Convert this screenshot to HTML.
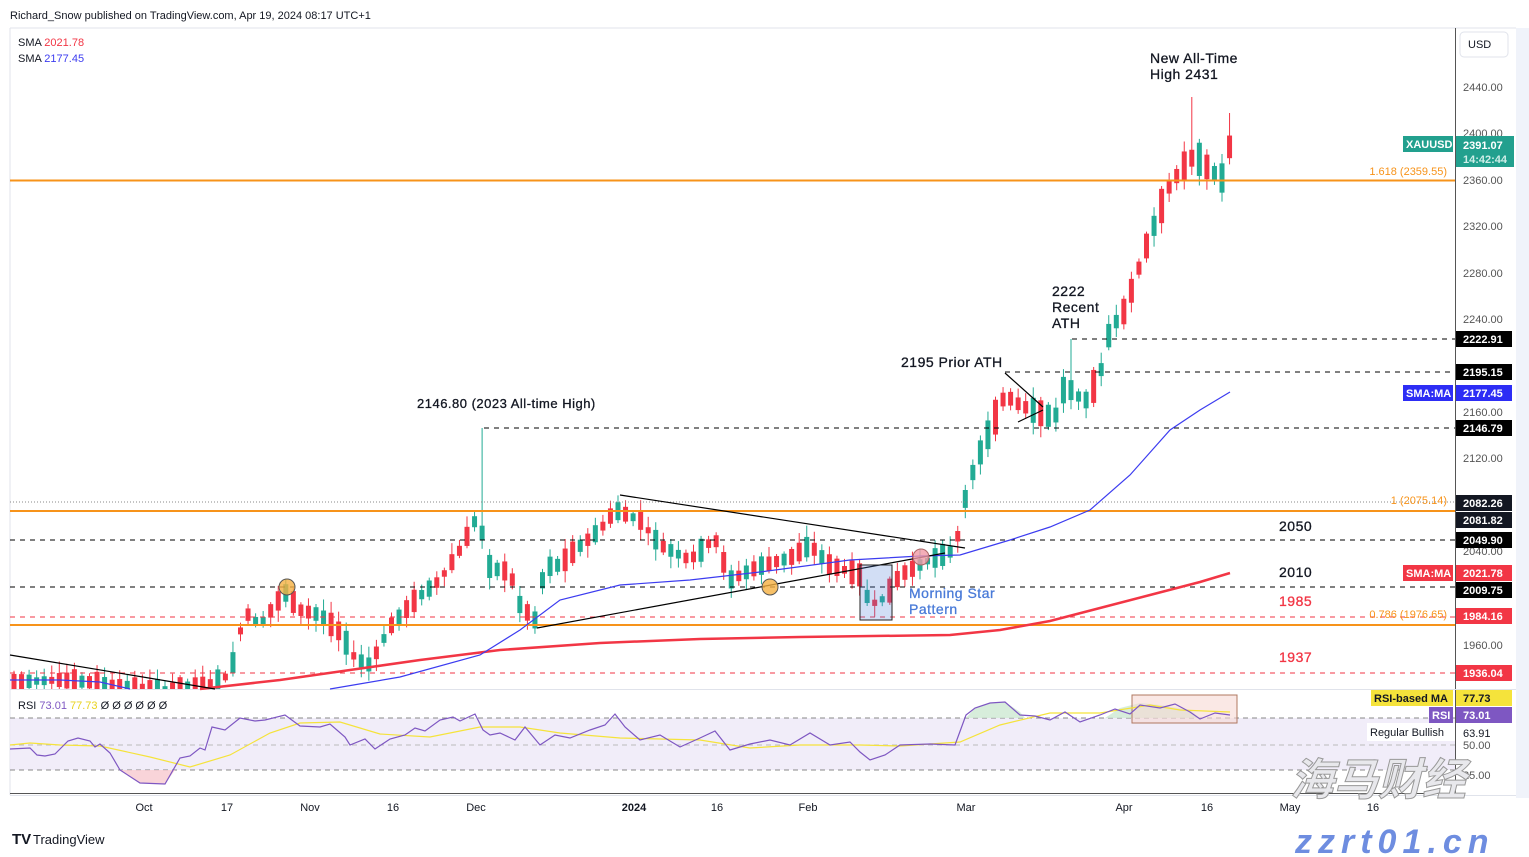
<!DOCTYPE html>
<html><head><meta charset="utf-8"><style>
body{margin:0;background:#fff;width:1529px;height:857px;overflow:hidden;font-family:"Liberation Sans",sans-serif}
svg{position:absolute;left:0;top:0}
</style></head><body>
<svg id="s" width="1529" height="857" xmlns="http://www.w3.org/2000/svg" font-family="Liberation Sans, Noto Sans CJK SC, sans-serif">
<rect x="0" y="0" width="1529" height="857" fill="#fff"/>
<rect x="1516" y="28" width="13" height="770" fill="#f0f3fa"/>
<line x1="10" y1="28" x2="10" y2="795" stroke="#e0e3eb"/>
<line x1="10" y1="28" x2="1516" y2="28" stroke="#e0e3eb"/>
<line x1="1455.5" y1="28" x2="1455.5" y2="795" stroke="#555"/>
<line x1="10" y1="689.5" x2="1516" y2="689.5" stroke="#e0e3eb"/>
<line x1="10" y1="793.5" x2="1455" y2="793.5" stroke="#555"/>
<line x1="10" y1="795.5" x2="1516" y2="795.5" stroke="#e0e3eb"/>
<rect x="10" y="718" width="1445" height="52" fill="#ede9f7" opacity="0.8"/>
<g stroke="#888" stroke-dasharray="5,4"><line x1="10" y1="718" x2="1455" y2="718"/><line x1="10" y1="745" x2="1455" y2="745" stroke="#bbb"/><line x1="10" y1="770" x2="1455" y2="770"/></g>
<polygon points="120,770 140,783 165,784 175,770" fill="#f7c9cf" opacity="0.8"/>
<polygon points="966,718 975,708 990,703 1005,702 1020,712 1025,718" fill="#cde8d2" opacity="0.8"/>
<polygon points="1105,718 1120,708 1140,703 1160,705 1190,710 1200,718" fill="#cde8d2" opacity="0.8"/>
<rect x="1132" y="695" width="105" height="28" fill="#f6d8d3" fill-opacity="0.6" stroke="#b07860"/>
<polyline fill="none" stroke="#f5e33b" stroke-width="1.2" points="10,745 30,743 60,745 100,746 150,757 190,767 230,755 270,733 300,723 340,722 380,734 430,737 480,727 520,727 560,733 620,738 700,740 750,748 800,745 860,745 900,746 960,742 1000,725 1050,713 1100,713 1150,705 1180,710 1230,712"/>
<polyline fill="none" stroke="#7e57c2" stroke-width="1.2" points="10,749 30,748 37,755 45,756 55,754 68,741 78,738 90,741 95,747 100,744 110,753 120,770 140,783 165,784 180,758 190,756 200,748 205,750 212,727 225,730 240,718 255,721 265,720 285,715 300,726 320,727 330,724 345,737 350,745 365,739 375,749 390,739 405,735 415,728 425,731 440,720 453,717 460,721 475,714 483,730 490,735 500,733 515,740 525,727 540,745 555,735 570,738 590,730 605,725 615,714 625,727 640,740 660,735 680,747 700,738 715,731 730,750 750,744 770,740 790,745 810,733 830,745 850,742 860,752 870,760 885,755 900,745 930,744 955,745 966,715 975,708 990,703 1005,702 1020,715 1035,716 1050,720 1065,712 1080,722 1100,715 1115,709 1130,714 1140,705 1160,708 1175,704 1190,712 1200,719 1215,713 1230,715"/>
<g id="main"></g>
<line x1="10" y1="180.5" x2="1455" y2="180.5" stroke="#f7931a" stroke-width="2"/>
<line x1="10" y1="502" x2="1455" y2="502" stroke="#888" stroke-dasharray="1,2"/>
<line x1="10" y1="511" x2="1455" y2="511" stroke="#f7931a" stroke-width="2"/>
<line x1="10" y1="625" x2="1455" y2="625" stroke="#f7931a" stroke-width="2"/>
<g stroke="#000" stroke-dasharray="5,5"><line x1="10" y1="540" x2="1455" y2="540"/><line x1="10" y1="587" x2="1455" y2="587"/><line x1="484" y1="428" x2="1455" y2="428"/><line x1="1005" y1="372" x2="1455" y2="372"/><line x1="1072" y1="339" x2="1455" y2="339"/></g>
<g stroke="#f23645" stroke-dasharray="5,5"><line x1="10" y1="617" x2="1455" y2="617"/><line x1="10" y1="673" x2="1455" y2="673"/></g>
<polyline fill="none" stroke="#f23645" stroke-width="2.5" points="200,689 280,680 350,670 420,660 500,650 600,643 700,639 800,637 950,635 1000,630 1050,621 1100,608 1150,595 1200,582 1230,573"/>
<polyline fill="none" stroke="#3c3cf0" stroke-width="1.2" points="10,680 60,680 100,682 130,689"/>
<polyline fill="none" stroke="#3c3cf0" stroke-width="1.2" points="330,689 400,677 480,655 520,630 560,600 620,585 690,580 760,572 850,560 920,556 960,555 1010,540 1050,527 1090,510 1130,475 1170,430 1200,410 1230,392"/>
<g stroke="#000" stroke-width="1.2"><line x1="10" y1="655" x2="215" y2="689"/><line x1="620" y1="495" x2="965" y2="548"/><line x1="537" y1="628" x2="945" y2="553"/><line x1="1005" y1="373" x2="1043" y2="407"/><line x1="1018" y1="422" x2="1043" y2="410"/></g>
<rect x="860" y="565" width="32" height="55" fill="#4a7bd8" fill-opacity="0.25" stroke="#222"/>
<circle cx="287" cy="587" r="8" fill="#f5b041" fill-opacity="0.8" stroke="#555"/>
<circle cx="770" cy="587" r="8" fill="#f5b041" fill-opacity="0.8" stroke="#555"/>
<circle cx="921" cy="557" r="8" fill="#f19aa6" fill-opacity="0.8" stroke="#a66"/>
<g font-size="14" fill="#131722" letter-spacing="0.5" stroke="#131722" stroke-width="0.3">
<text x="1150" y="63">New All-Time</text><text x="1150" y="79">High 2431</text>
<text x="1052" y="296">2222</text><text x="1052" y="312">Recent</text><text x="1052" y="328">ATH</text>
<text x="901" y="367">2195 Prior ATH</text>
<text x="417" y="408" font-size="13">2146.80 (2023 All-time High)</text>
<text x="1279" y="531">2050</text><text x="1279" y="577">2010</text>
<text x="1279" y="606" fill="#f23645" stroke="#f23645">1985</text><text x="1279" y="662" fill="#f23645" stroke="#f23645">1937</text>
<text x="909" y="598" fill="#4a7bd8" stroke="#4a7bd8">Morning Star</text><text x="909" y="614" fill="#4a7bd8" stroke="#4a7bd8">Pattern</text>
</g>
<g font-size="11" fill="#f7931a" text-anchor="end"><text x="1447" y="175">1.618 (2359.55)</text><text x="1447" y="504">1 (2075.14)</text><text x="1447" y="618">0.786 (1976.65)</text></g>
<text x="10" y="19" font-size="11" fill="#131722">Richard_Snow published on TradingView.com, Apr 19, 2024 08:17 UTC+1</text>
<text x="18" y="46" font-size="11" fill="#131722">SMA <tspan fill="#f23645">2021.78</tspan></text>
<text x="18" y="62" font-size="11" fill="#131722">SMA <tspan fill="#3c3cf0">2177.45</tspan></text>
<text x="18" y="709" font-size="11" fill="#131722">RSI <tspan fill="#7e57c2">73.01</tspan> <tspan fill="#e8d21d">77.73</tspan> <tspan>Ø Ø Ø Ø Ø Ø</tspan></text>
<rect x="1460" y="32" width="48" height="25" rx="4" fill="#fff" stroke="#e0e3eb"/>
<text x="1468" y="48" font-size="11" fill="#131722">USD</text>
<g font-size="11" fill="#555">
<text x="1463" y="91">2440.00</text><text x="1463" y="137">2400.00</text><text x="1463" y="184">2360.00</text><text x="1463" y="230">2320.00</text><text x="1463" y="277">2280.00</text><text x="1463" y="323">2240.00</text><text x="1463" y="416">2160.00</text><text x="1463" y="462">2120.00</text><text x="1463" y="555">2040.00</text><text x="1463" y="649">1960.00</text><text x="1463" y="749">50.00</text><text x="1463" y="779">25.00</text>
</g>
<g id="tags" font-size="11" font-weight="bold" fill="#fff"></g>
<rect x="1367" y="723" width="88" height="18" fill="#fff"/>
<text x="1370" y="736" font-size="11" fill="#131722">Regular Bullish</text><text x="1463" y="737" font-size="11" fill="#131722">63.91</text>
<g font-size="11" fill="#131722" text-anchor="middle">
<text x="144" y="811">Oct</text><text x="227" y="811">17</text><text x="310" y="811">Nov</text><text x="393" y="811">16</text><text x="476" y="811">Dec</text><text x="634" y="811" font-weight="bold">2024</text><text x="717" y="811">16</text><text x="808" y="811">Feb</text><text x="966" y="811">Mar</text><text x="1124" y="811">Apr</text><text x="1207" y="811">16</text><text x="1290" y="811">May</text><text x="1373" y="811">16</text>
</g>
<text x="12" y="844" font-size="15" font-weight="bold" fill="#131722">TV</text>
<text x="33" y="844" font-size="13" fill="#131722">TradingView</text>
<text x="1290" y="795" font-size="44" font-weight="bold" font-style="italic" fill="#e8e8ec" stroke="#999" stroke-width="1" font-family="Noto Sans CJK SC, sans-serif">海马财经</text>
<text x="1295" y="853" font-size="34" font-weight="bold" font-style="italic" fill="#6e8de0" letter-spacing="6">zzrt01.cn</text>
</svg>
<script>
(function(){
var NS="http://www.w3.org/2000/svg";
function el(p,t,a,txt){var e=document.createElementNS(NS,t);for(var k in a)e.setAttribute(k,a[k]);if(txt)e.textContent=txt;p.appendChild(e);return e;}
var wp=[[14,682],[60,680],[100,683],[150,690],[200,688],[230,675],[245,612],[260,625],[285,592],[300,610],[320,615],[340,632],[355,658],[370,665],[390,627],[415,600],[440,580],[460,550],[478,515],[490,568],[510,572],[520,605],[535,620],[545,567],[560,565],[575,550],[600,530],[615,510],[640,520],[660,545],[690,560],[715,538],[730,580],[760,566],[790,558],[810,545],[830,565],[860,575],[870,605],[885,598],[900,575],[930,560],[955,550],[965,500],[975,465],[990,430],[1005,395],[1020,405],[1040,413],[1055,418],[1065,385],[1085,402],[1100,375],[1110,330],[1125,310],[1135,280],[1145,250],[1160,210],[1170,185],[1185,165],[1195,155],[1210,170],[1222,178],[1230,145]];
function interp(x){for(var i=1;i<wp.length;i++){if(x<=wp[i][0]){var a=wp[i-1],b=wp[i];return a[1]+(b[1]-a[1])*(x-a[0])/(b[0]-a[0]);}}return wp[wp.length-1][1];}
var seed=7;function r(){seed=(seed*9301+49297)%233280;return seed/233280;}
var g=document.getElementById('main');
for(var x=14;x<=1231;x+=7.55){
 var m=interp(x),dir=(r()<0.5?-1:1),h=6+r()*18;
 if(x>960)h=10+r()*25;
 var o=m+dir*h/2,c=m-dir*h/2;
 var hi=Math.min(o,c)-2-r()*10,lo=Math.max(o,c)+2+r()*10;
 if(Math.abs(x-484)<4)hi=428; if(Math.abs(x-1192)<4)hi=97; if(Math.abs(x-1230)<4)hi=113;if(Math.abs(x-1072)<4)hi=339;
 var col=c<o?'#22ab94':'#f23645';
 var yt=Math.max(hi,28),yb=Math.min(lo,689);
 if(yt<689){el(g,'line',{x1:x,x2:x,y1:yt,y2:yb,stroke:col});
 var bt=Math.max(Math.min(o,c),28),bb=Math.min(Math.max(o,c),689);if(bb-bt<1)bb=bt+1;
 if(bt<689)el(g,'rect',{x:x-2.5,y:bt,width:5,height:bb-bt,fill:col});}
}
var tags=document.getElementById('tags');
function tag(y,txt,bg,lab,lw,tc){el(tags,'rect',{x:1456,y:y-8,width:56,height:16,fill:bg});el(tags,'text',{x:1463,y:y+4,fill:tc||'#fff'},txt);
 if(lab){el(tags,'rect',{x:1455-lw,y:y-8,width:lw-2,height:16,fill:bg});el(tags,'text',{x:1458-lw,y:y+4,fill:tc||'#fff'},lab);}}
tag(339,'2222.91','#000');tag(372,'2195.15','#000');tag(393,'2177.45','#2d2df5','SMA:MA',52);tag(428,'2146.79','#000');
tag(503,'2082.26','#131722');tag(520,'2081.82','#131722');tag(540,'2049.90','#000');tag(573,'2021.78','#f23645','SMA:MA',52);
tag(590,'2009.75','#000');tag(616,'1984.16','#f23645');tag(673,'1936.04','#f23645');
tag(698,'77.73','#f5e33b','RSI-based MA',84,'#131722');tag(715,'73.01','#7e57c2','RSI',26);
el(tags,'rect',{x:1456,y:136,width:58,height:31,fill:'#22a08e'});el(tags,'text',{x:1463,y:149},'2391.07');
el(tags,'text',{x:1463,y:163,fill:'#cfeee8'},'14:42:44');el(tags,'rect',{x:1403,y:136,width:50,height:16,fill:'#22a08e'});el(tags,'text',{x:1406,y:148},'XAUUSD');
})();
</script>
</body></html>
